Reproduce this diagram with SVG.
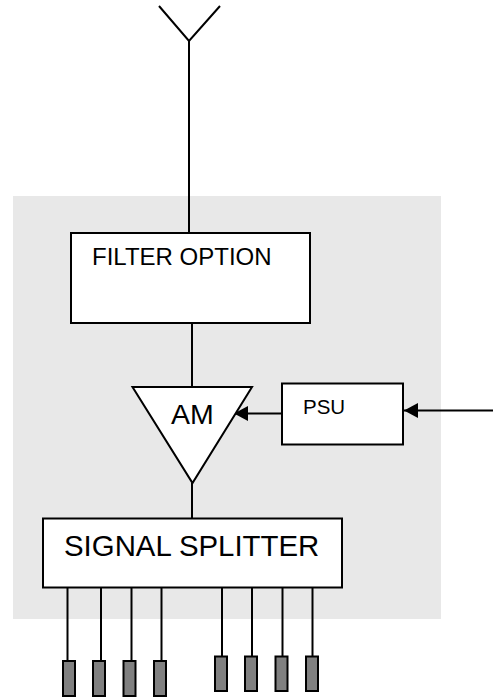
<svg xmlns="http://www.w3.org/2000/svg" width="493" height="697" viewBox="0 0 493 697">
<defs>
<style>
.ln{stroke:#000;stroke-width:2;fill:none}
.box{fill:#fff;stroke:#000;stroke-width:2}
.out{fill:#808080;stroke:#000;stroke-width:2}
.t{font-family:"Liberation Sans",Arial,sans-serif;fill:#000}
</style>
<marker id="ah" viewBox="0 0 14 15" refX="14" refY="7.5" markerWidth="14" markerHeight="15" markerUnits="userSpaceOnUse" orient="auto">
<path d="M0,0 L14,7.5 L0,15 Z" fill="#000"/>
</marker>
</defs>
<rect id="housing" x="13" y="196" width="428" height="423" fill="#e8e8e8"/>
<g id="antenna">
<polyline class="ln" points="159,6 189,41 220,6"/>
</g>
<g id="connectors">
<line class="ln" x1="189" y1="41" x2="189" y2="233"/>
<line class="ln" x1="192" y1="323" x2="192" y2="387"/>
<line class="ln" x1="192" y1="483" x2="192" y2="518"/>
<line class="ln" x1="282" y1="413.5" x2="234" y2="413.5" marker-end="url(#ah)"/>
<line class="ln" x1="493" y1="410.5" x2="404" y2="410.5" marker-end="url(#ah)"/>
<line class="ln" x1="67.5" y1="587" x2="67.5" y2="661"/>
<line class="ln" x1="101" y1="587" x2="101" y2="661"/>
<line class="ln" x1="131.5" y1="587" x2="131.5" y2="661"/>
<line class="ln" x1="161.5" y1="587" x2="161.5" y2="661"/>
<line class="ln" x1="222" y1="587" x2="222" y2="656"/>
<line class="ln" x1="252" y1="587" x2="252" y2="656"/>
<line class="ln" x1="282.5" y1="587" x2="282.5" y2="656"/>
<line class="ln" x1="312.5" y1="587" x2="312.5" y2="656"/>
</g>
<g id="filter">
<rect class="box" x="71" y="233" width="239" height="90"/>
<text class="t" x="92" y="265" font-size="24">FILTER OPTION</text>
</g>
<g id="amplifier">
<polygon class="box" points="132.5,387 252,387 192.5,483"/>
<text class="t" x="171" y="424" font-size="28.5">AM</text>
</g>
<g id="psu">
<rect class="box" x="282" y="383.5" width="121" height="61"/>
<text class="t" x="303" y="414" font-size="20.5">PSU</text>
</g>
<g id="splitter">
<rect class="box" x="43" y="518.5" width="299" height="69"/>
<text class="t" x="64" y="556" font-size="29.4">SIGNAL SPLITTER</text>
</g>
<g id="outputs">
<rect class="out" x="63" y="661" width="12" height="35"/>
<rect class="out" x="93" y="661" width="12" height="35"/>
<rect class="out" x="123.5" y="661" width="12" height="35"/>
<rect class="out" x="154" y="661" width="12" height="35"/>
<rect class="out" x="215" y="656.5" width="12" height="34.5"/>
<rect class="out" x="245" y="656.5" width="12" height="34.5"/>
<rect class="out" x="275.5" y="656.5" width="12" height="34.5"/>
<rect class="out" x="306" y="656.5" width="12" height="34.5"/>
</g>
</svg>
